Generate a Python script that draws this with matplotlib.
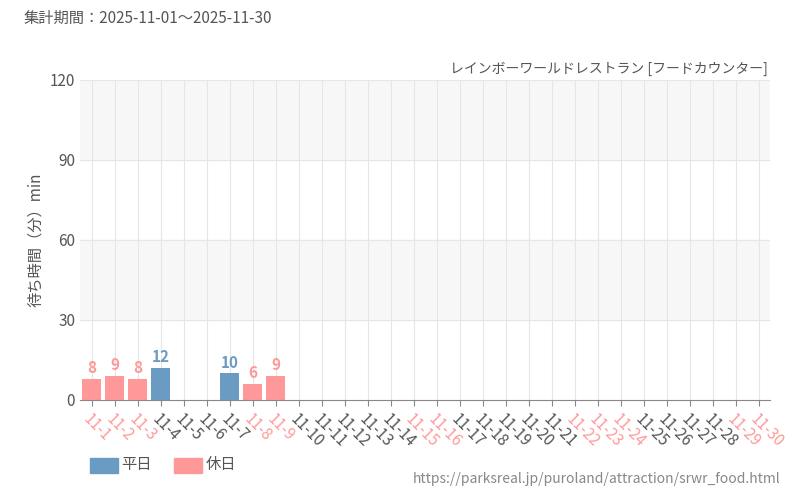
import numpy as np
import matplotlib.pyplot as plt

plt.rcParams['font.family'] = ['Noto Sans CJK JP', 'DejaVu Sans']

days = [f"11-{d}" for d in range(1, 31)]
holidays = ["11-1", "11-2", "11-3", "11-8", "11-9", "11-15", "11-16",
            "11-22", "11-23", "11-24", "11-29", "11-30"]
waits = [8, 9, 8, 12, None, None, 10, 6, 9] + [None] * 21

weekday_color = "#6a9bc3"
holiday_color = "#ff9999"
text_color = "#555555"

fig = plt.figure(figsize=(8, 5), dpi=100)
ax = fig.add_axes([0.1, 0.2, 0.8625, 0.64])

x = np.arange(len(days))
ax.set_xlim(-0.5, len(days) - 0.5)
ax.set_ylim(0, 120)
for lo in (30, 90):
    ax.axhspan(lo, lo + 30, color="#f7f7f7", zorder=0)
for y in (30, 60, 90, 120):
    ax.axhline(y, color="#e6e6e6", lw=0.8, zorder=1)
for xi in x:
    ax.axvline(xi, color="#e6e6e6", lw=0.8, zorder=1)

for xi, d, w in zip(x, days, waits):
    if w is None:
        continue
    c = holiday_color if d in holidays else weekday_color
    ax.bar(xi, w, width=0.8, color=c, zorder=2)
    ax.text(xi, w + 1, str(w), ha="center", va="bottom", color=c,
            fontsize=11, fontweight="bold", fontstretch="condensed", zorder=3)

ax.set_yticks([0, 30, 60, 90, 120])
ax.tick_params(axis="y", length=0, labelsize=11, labelcolor=text_color)
ax.set_xticks(x)
ax.set_xticklabels(days, rotation=-45, ha="left", rotation_mode="anchor", fontsize=11)
for lab in ax.get_xticklabels():
    lab.set_color(holiday_color if lab.get_text() in holidays else text_color)
ax.tick_params(axis="x", length=4, color="#888888")
for s in ("top", "right", "left"):
    ax.spines[s].set_visible(False)
ax.spines["bottom"].set_color("#888888")
ax.set_ylabel("待ち時間（分）min", color=text_color, fontsize=11)

fig.text(0.03, 0.955, "集計期間：2025-11-01～2025-11-30", color=text_color, fontsize=11)
fig.text(0.96, 0.855, "レインボーワールドレストラン [フードカウンター]", color=text_color,
         fontsize=10, ha="right")
fig.patches.append(plt.Rectangle((0.113, 0.055), 0.035, 0.03, color=weekday_color,
                                 transform=fig.transFigure))
fig.text(0.152, 0.07, "平日", color=text_color, fontsize=11, va="center")
fig.patches.append(plt.Rectangle((0.218, 0.055), 0.035, 0.03, color=holiday_color,
                                 transform=fig.transFigure))
fig.text(0.257, 0.07, "休日", color=text_color, fontsize=11, va="center")
fig.text(0.975, 0.035, "https://parksreal.jp/puroland/attraction/srwr_food.html",
         color="#888888", fontsize=10, ha="right")

fig.savefig("out.png")
